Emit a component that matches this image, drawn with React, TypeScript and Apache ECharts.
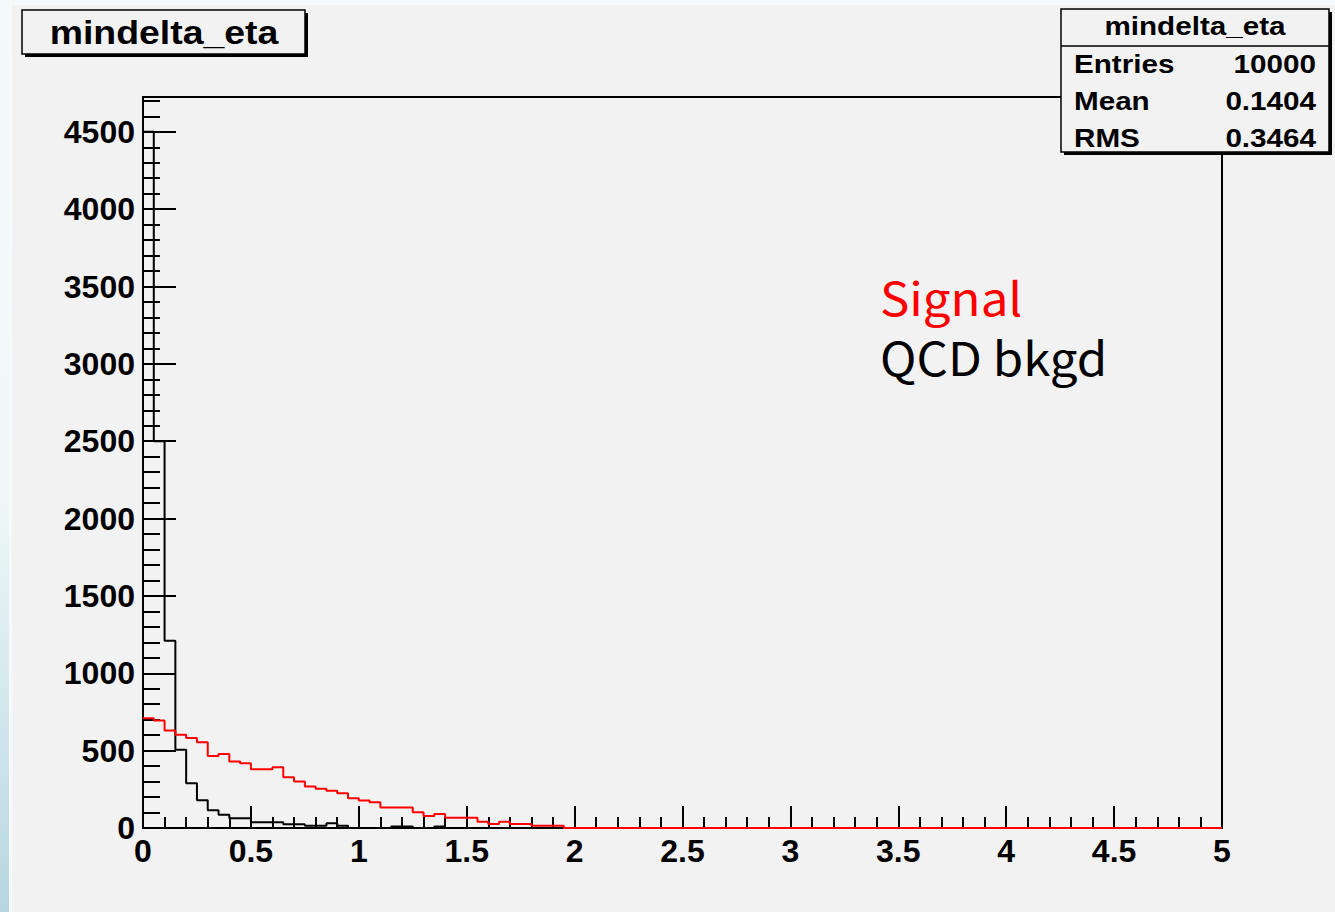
import React, { useEffect, useRef } from "react";
import * as echarts from "echarts";

// Histogram binning: 100 bins of width 0.05 over [0, 5]
const nBins = 100;
const binWidth = 0.05;

// Bin contents (leading bins; remaining bins are empty)
const qcdCounts = [
  4500, 2500, 1210, 505, 290, 180, 115, 85, 63, 63,
  37, 37, 37, 24, 24, 15, 15, 30, 15, 0,
  0, 0, 0, 10, 10, 0, 0, 10,
];
const signalCounts = [
  710, 695, 630, 602, 581, 555, 466, 479, 430, 419,
  380, 380, 393, 328, 300, 268, 253, 240, 225, 192,
  177, 166, 132, 132, 132, 101, 78, 91, 67, 67,
  67, 41, 26, 41, 26, 26, 15, 15, 15,
];

const histName = "mindelta_eta";
const statLabels = ["Entries", "Mean", "RMS"];
const statValues = ["10000", "0.1404", "0.3464"];
const legendLabels = ["Signal", "QCD bkgd"];

const xMin = 0;
const xMax = 5;
const yMax = 4725; // 1.05 x highest bin

function padBins(counts: number[]): number[] {
  const out = counts.slice();
  while (out.length < nBins) out.push(0);
  return out;
}

// Step outline points: one per lower bin edge, plus the final upper edge
function stepPoints(counts: number[]): [number, number][] {
  const full = padBins(counts);
  const pts: [number, number][] = full.map((c, i) => [+(i * binWidth).toFixed(4), c]);
  pts.push([+(nBins * binWidth).toFixed(4), full[full.length - 1]]);
  return pts;
}

const rootFont = "'Liberation Sans', Arial, Helvetica, sans-serif";
const legendFont = "46px 'Noto Sans CJK JP', 'Noto Sans', sans-serif";

export default function App() {
  const ref = useRef<HTMLDivElement>(null);

  useEffect(() => {
    if (!ref.current) return;
    const chart = echarts.init(ref.current, undefined, { renderer: "svg" });

    const statRows = statLabels.map((label, i) => [
      {
        type: "text",
        x: 1074,
        y: 64 + i * 37,
        scaleX: 1.14,
        z: 12,
        style: {
          text: label,
          font: `bold 26px ${rootFont}`,
          fill: "#000",
          textAlign: "left",
          textVerticalAlign: "middle",
        },
      },
      {
        type: "text",
        x: 1316,
        y: 64 + i * 37,
        scaleX: 1.14,
        z: 12,
        style: {
          text: statValues[i],
          font: `bold 26px ${rootFont}`,
          fill: "#000",
          textAlign: "right",
          textVerticalAlign: "middle",
        },
      },
    ]).flat();

    chart.setOption({
      animation: false,
      backgroundColor: "#f2f2f2",
      grid: {
        left: 143,
        top: 97,
        width: 1079,
        height: 731,
        show: true,
        borderColor: "#000",
        borderWidth: 2,
        backgroundColor: "transparent",
        containLabel: false,
      },
      xAxis: {
        type: "value",
        min: xMin,
        max: xMax,
        interval: 0.5,
        splitLine: { show: false },
        axisLine: { show: true, lineStyle: { color: "#000", width: 2 } },
        axisTick: { show: true, inside: true, length: 22, lineStyle: { color: "#000", width: 2 } },
        minorTick: { show: true, splitNumber: 5, length: 11, lineStyle: { color: "#000", width: 2 } },
        minorSplitLine: { show: false },
        axisLabel: {
          show: true,
          margin: 7,
          color: "#000",
          fontFamily: rootFont,
          fontWeight: "bold",
          fontSize: 32,
          formatter: (v: number) => String(v),
        },
      },
      yAxis: [
        {
          type: "value",
          min: 0,
          max: yMax,
          interval: 100,
          splitLine: { show: false },
          axisLine: { show: true, lineStyle: { color: "#000", width: 2 } },
          axisTick: { show: true, inside: true, length: 17, lineStyle: { color: "#000", width: 2 } },
          axisLabel: { show: false },
        },
        {
          type: "value",
          position: "left",
          min: 0,
          max: yMax,
          interval: 500,
          splitLine: { show: false },
          axisLine: { show: false },
          axisTick: { show: true, inside: true, length: 33, lineStyle: { color: "#000", width: 2 } },
          axisLabel: {
            show: true,
            margin: 8,
            color: "#000",
            fontFamily: rootFont,
            fontWeight: "bold",
            fontSize: 32,
            formatter: (v: number) => (v % 500 === 0 ? String(v) : ""),
          },
        },
      ],
      series: [
        {
          name: legendLabels[1],
          type: "line",
          step: "end",
          xAxisIndex: 0,
          yAxisIndex: 0,
          showSymbol: false,
          symbol: "none",
          data: stepPoints(qcdCounts),
          lineStyle: { color: "#000", width: 2 },
          z: 3,
        },
        {
          name: legendLabels[0],
          type: "line",
          step: "end",
          xAxisIndex: 0,
          yAxisIndex: 0,
          showSymbol: false,
          symbol: "none",
          data: stepPoints(signalCounts),
          lineStyle: { color: "#ff0000", width: 2 },
          z: 4,
        },
      ],
      graphic: [
        // page surround
        { type: "rect", shape: { x: 0, y: 0, width: 1335, height: 5 }, style: { fill: "#f5f9fc" }, z: -10 },
        { type: "rect", shape: { x: 0, y: 0, width: 12, height: 912 }, style: { fill: "#f7fafb" }, z: -10 },
        {
          type: "rect",
          shape: { x: 0, y: 0, width: 9, height: 912 },
          style: {
            fill: new echarts.graphic.LinearGradient(0, 0, 0, 1, [
              { offset: 0, color: "#f4f9fb" },
              { offset: 0.55, color: "#eef8f7" },
              { offset: 1, color: "#b7d6e0" },
            ]),
          },
          z: -9,
        },
        // title box with shadow
        { type: "rect", shape: { x: 25, y: 13, width: 283, height: 44 }, style: { fill: "#000" }, z: 10 },
        {
          type: "rect",
          shape: { x: 22, y: 10, width: 283, height: 44 },
          style: { fill: "#f2f2f2", stroke: "#000", lineWidth: 1.5 },
          z: 11,
        },
        {
          type: "text",
          x: 164,
          y: 33,
          scaleX: 1.1,
          z: 12,
          style: {
            text: histName,
            font: `bold 34px ${rootFont}`,
            fill: "#000",
            textAlign: "center",
            textVerticalAlign: "middle",
          },
        },
        // statistics box with shadow
        { type: "rect", shape: { x: 1064, y: 12, width: 268, height: 143 }, style: { fill: "#000" }, z: 10 },
        {
          type: "rect",
          shape: { x: 1061, y: 9, width: 268, height: 143 },
          style: { fill: "#f2f2f2", stroke: "#000", lineWidth: 1.5 },
          z: 11,
        },
        {
          type: "line",
          shape: { x1: 1061, y1: 46, x2: 1329, y2: 46 },
          style: { stroke: "#000", lineWidth: 1.5 },
          z: 12,
        },
        {
          type: "text",
          x: 1195,
          y: 26,
          scaleX: 1.14,
          z: 12,
          style: {
            text: histName,
            font: `bold 26px ${rootFont}`,
            fill: "#000",
            textAlign: "center",
            textVerticalAlign: "middle",
          },
        },
        ...statRows,
        // legend
        {
          type: "text",
          x: 880,
          y: 296,
          scaleX: 1.07,
          z: 12,
          style: {
            text: legendLabels[0],
            font: legendFont,
            lineHeight: 50,
            fill: "#ff0000",
            textAlign: "left",
            textVerticalAlign: "middle",
          },
        },
        {
          type: "text",
          x: 880,
          y: 356,
          scaleX: 1.07,
          z: 12,
          style: {
            text: legendLabels[1],
            font: legendFont,
            lineHeight: 50,
            fill: "#000",
            textAlign: "left",
            textVerticalAlign: "middle",
          },
        },
      ],
    });

    return () => chart.dispose();
  }, []);

  return (
    <div
      ref={ref}
      style={{ position: "absolute", left: 0, top: 0, width: 1335, height: 912 }}
    />
  );
}
